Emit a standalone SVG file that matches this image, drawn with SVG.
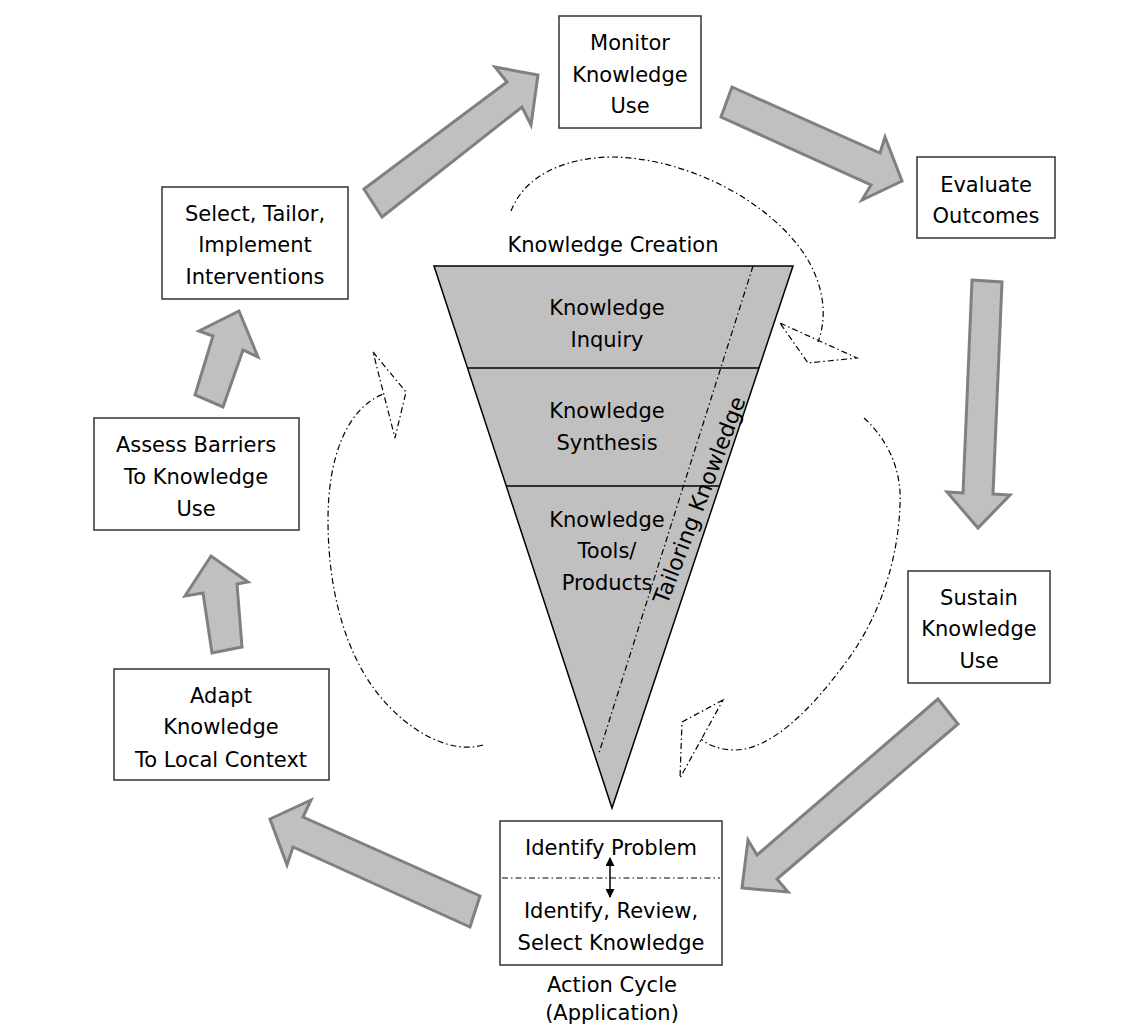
<svg xmlns="http://www.w3.org/2000/svg" width="1140" height="1029" viewBox="0 0 1140 1029">
<style>
  text { font-family: "DejaVu Sans", "Open Sans", sans-serif; font-size: 21px; fill: #000; text-anchor: middle; }
  .box { fill: #fff; stroke: #333; stroke-width: 1.5; }
  .big { fill: #c0c0c0; stroke: #808080; stroke-width: 3; stroke-linejoin: miter; }
  .dd { fill: none; stroke: #000; stroke-width: 1.2; stroke-dasharray: 6 3 1.5 3; }
  .tri { fill: #c0c0c0; stroke: #000; stroke-width: 1.5; }
</style>
<defs>
  <marker id="ah" viewBox="0 0 10 10" refX="9" refY="5" markerWidth="6" markerHeight="6" orient="auto-start-reverse">
    <path d="M0,0 L10,5 L0,10 z" fill="#000"/>
  </marker>
</defs>
<rect width="1140" height="1029" fill="#fff"/>

<g id="knowledge-creation">
  <text x="613" y="252">Knowledge Creation</text>
  <polygon class="tri" points="434,266 793,266 612,808"/>
  <line x1="467" y1="368" x2="759" y2="368" stroke="#000" stroke-width="1.5"/>
  <line x1="506" y1="486" x2="720" y2="486" stroke="#000" stroke-width="1.5"/>
  <text x="607" y="315">Knowledge</text>
  <text x="607" y="347">Inquiry</text>
  <text x="607" y="418">Knowledge</text>
  <text x="607" y="450">Synthesis</text>
  <text x="607" y="527">Knowledge</text>
  <text x="607" y="558">Tools/</text>
  <text x="607" y="590">Products</text>
  <line class="dd" x1="753" y1="266" x2="599" y2="753"/>
  <text transform="translate(699,500) rotate(-69)" x="0" y="8" style="font-size:22px">Tailoring Knowledge</text>
</g>

<g id="monitor">
  <rect class="box" x="559" y="16" width="142" height="112"/>
  <text x="630" y="50">Monitor</text>
  <text x="630" y="82">Knowledge</text>
  <text x="630" y="113">Use</text>
</g>
<g id="evaluate">
  <rect class="box" x="917" y="157" width="138" height="81"/>
  <text x="986" y="192">Evaluate</text>
  <text x="986" y="223">Outcomes</text>
</g>
<g id="sustain">
  <rect class="box" x="908" y="571" width="142" height="112"/>
  <text x="979" y="605">Sustain</text>
  <text x="979" y="636">Knowledge</text>
  <text x="979" y="668">Use</text>
</g>
<g id="identify">
  <rect class="box" x="500" y="821" width="222" height="144"/>
  <line class="dd" x1="502" y1="878" x2="720" y2="878"/>
  <text x="611" y="855">Identify Problem</text>
  <text x="611" y="918">Identify, Review,</text>
  <text x="611" y="950">Select Knowledge</text>
  <line x1="610" y1="858" x2="610" y2="897" stroke="#000" stroke-width="1.5" marker-start="url(#ah)" marker-end="url(#ah)"/>
  <text x="612" y="992">Action Cycle</text>
  <text x="612" y="1020">(Application)</text>
</g>
<g id="adapt">
  <rect class="box" x="114" y="669" width="215" height="111"/>
  <text x="221" y="703">Adapt</text>
  <text x="221" y="734">Knowledge</text>
  <text x="221" y="767">To Local Context</text>
</g>
<g id="assess">
  <rect class="box" x="94" y="418" width="205" height="112"/>
  <text x="196" y="452">Assess Barriers</text>
  <text x="196" y="484">To Knowledge</text>
  <text x="196" y="516">Use</text>
</g>
<g id="select">
  <rect class="box" x="162" y="187" width="186" height="112"/>
  <text x="255" y="221">Select, Tailor,</text>
  <text x="255" y="252">Implement</text>
  <text x="255" y="284">Interventions</text>
</g>

<g id="connectors">
  <polygon class="big" points="364,189 507,82 495,67 538,75 531,125 522,107 382,217"/>
  <polygon class="big" points="732,87 880,153 885,137 902,181 862,200 871,185 721,117"/>
  <polygon class="big" points="972,280 1002,282 993,494 1010,495 978,528 947,492 963,493"/>
  <polygon class="big" points="938,699 757,855 748,840 742,888 788,892 777,879 958,724"/>
  <polygon class="big" points="270,819 311,800 303,817 480,896 470,927 293,847 287,865"/>
  <polygon class="big" points="212,653 203,593 185,596 211,556 248,582 237,584 242,647"/>
  <polygon class="big" points="195,395 213,336 199,331 239,311 258,357 243,350 223,407"/>

  <path class="dd" d="M511,211 C525,175 565,158 610,157 C680,157 760,195 800,248 C820,275 830,310 818,342"/>
  <polygon class="dd" points="780,323 857,358 808,363"/>
  <path class="dd" d="M864,418 C888,440 902,470 900,505 C898,560 880,620 840,670 C810,710 770,750 735,750 C720,750 708,745 701,739"/>
  <polygon class="dd" points="723,700 682,722 680,778"/>
  <path class="dd" d="M483,745 C450,755 405,730 375,690 C345,650 328,590 328,520 C328,460 345,410 383,394"/>
  <polygon class="dd" points="373,352 406,392 395,438"/>
</g>
</svg>
